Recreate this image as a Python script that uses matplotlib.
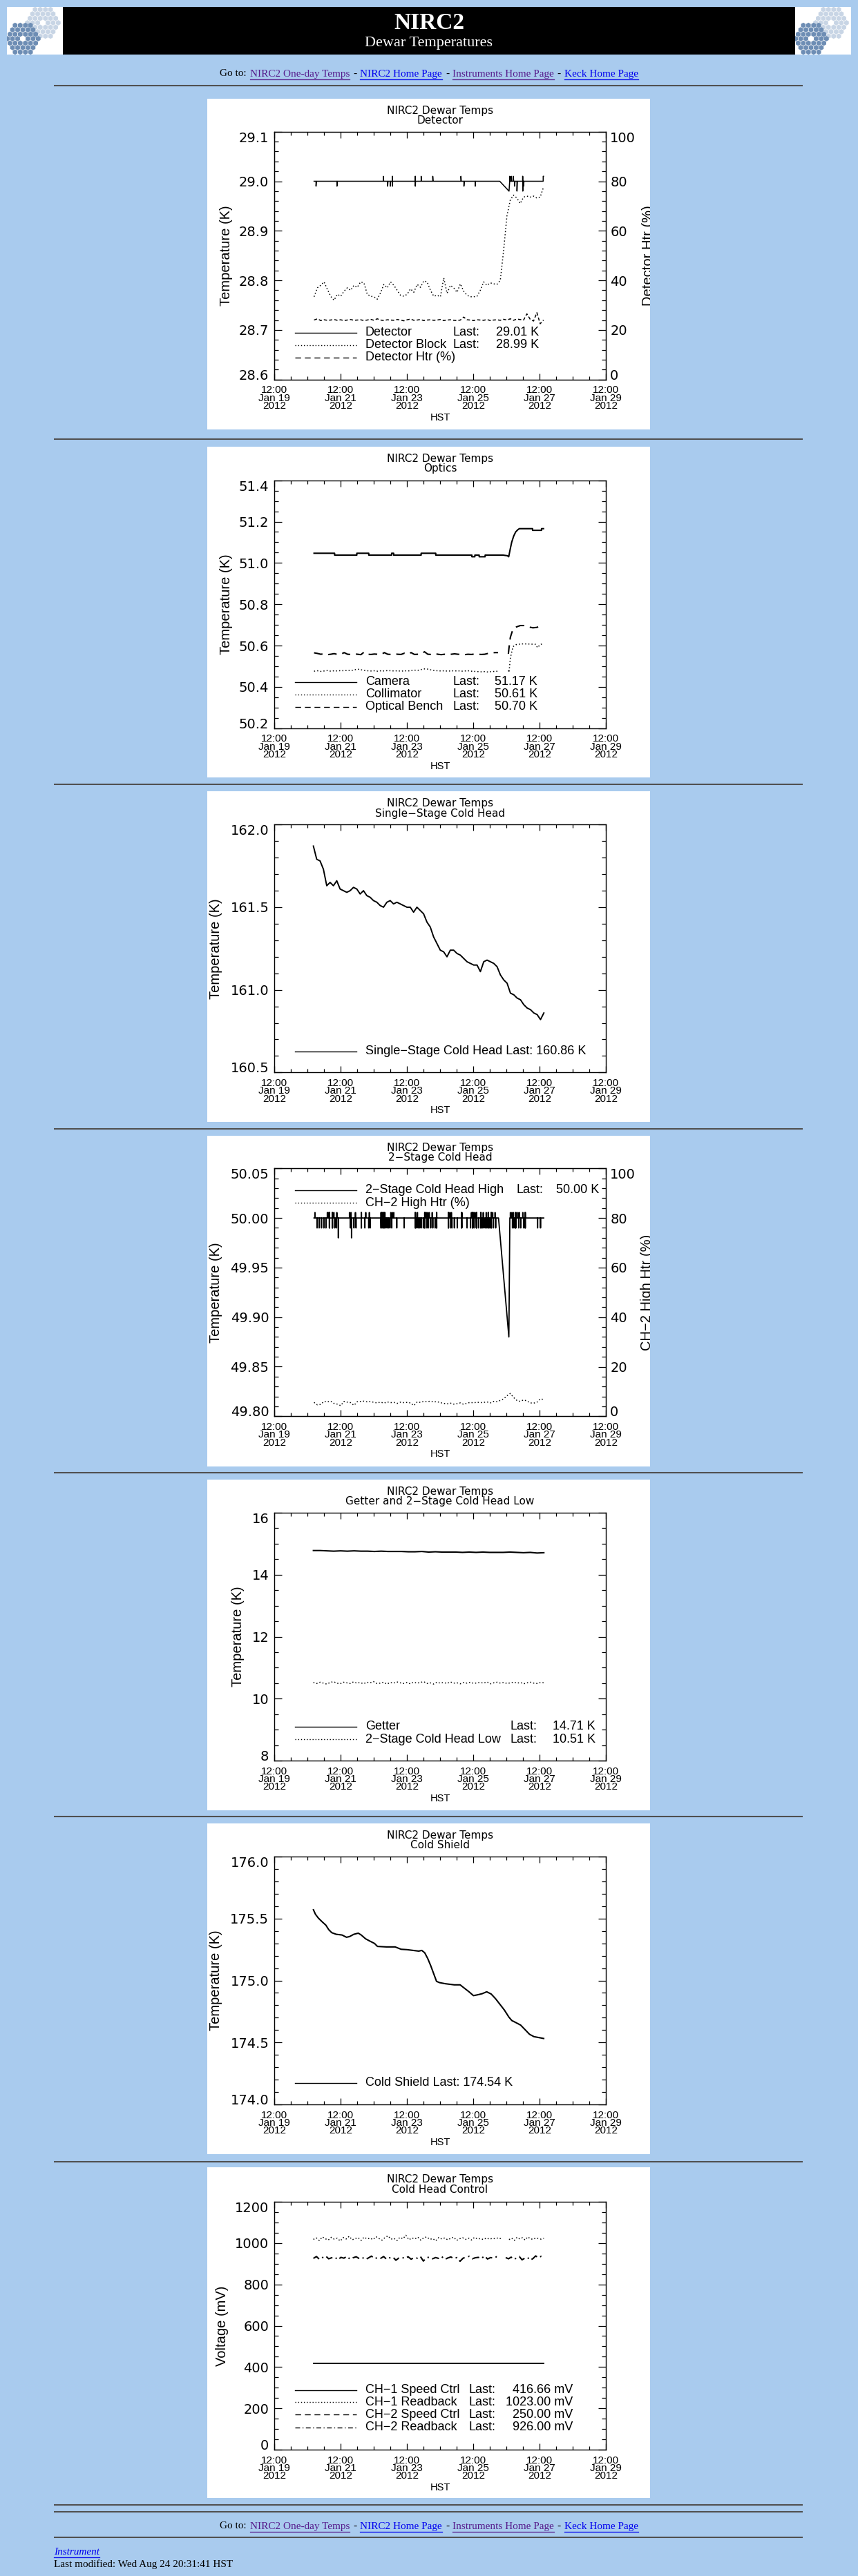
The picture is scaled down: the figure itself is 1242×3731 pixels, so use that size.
import numpy as np
import matplotlib
matplotlib.use("Agg")
import matplotlib.pyplot as plt
import matplotlib.transforms as mtransforms
from matplotlib.patches import Rectangle, RegularPolygon
from matplotlib.ticker import FixedLocator, MultipleLocator, FormatStrFormatter

plt.rcParams['font.family'] = ['DejaVu Sans']

# ======================= DATA =======================
# time axis: days since 2012-01-19 12:00 HST
XTICK_POS = [0, 2, 4, 6, 8, 10]
XTICK_LABELS = ["12:00\nJan 19\n2012", "12:00\nJan 21\n2012", "12:00\nJan 23\n2012",
                "12:00\nJan 25\n2012", "12:00\nJan 27\n2012", "12:00\nJan 29\n2012"]

# --- Panel 1: Detector ---
DET_T = [1.20, 1.26, 1.26, 1.27, 1.89, 1.89, 1.90, 3.29, 3.29, 3.30, 3.42, 3.42, 3.43,
         3.50, 3.50, 3.51, 3.56, 3.56, 3.565, 3.565, 3.57, 4.25, 4.25, 4.255, 4.255, 4.26,
         4.43, 4.43, 4.44, 4.78, 4.78, 4.79, 5.63, 5.63, 5.64, 5.72, 5.72, 5.73,
         6.06, 6.06, 6.07, 6.80, 7.08, 7.10, 7.10, 7.11, 7.15, 7.15, 7.16, 7.21, 7.21, 7.22,
         7.25, 7.25, 7.26, 7.32, 7.32, 7.33, 7.49, 7.49, 7.495, 7.495, 7.50, 7.52, 7.52, 7.53,
         8.11, 8.11, 8.12]
DET_V = [29.00, 29.00, 28.99, 29.00, 29.00, 28.99, 29.00, 29.00, 29.01, 29.00, 29.00, 28.99, 29.00,
         29.00, 28.99, 29.00, 29.00, 29.01, 29.01, 28.99, 29.00, 29.00, 29.01, 29.01, 28.99, 29.00,
         29.00, 29.01, 29.00, 29.00, 29.01, 29.00, 29.00, 29.01, 29.00, 29.00, 28.99, 29.00,
         29.00, 28.99, 29.00, 29.00, 28.98, 29.00, 29.01, 29.00, 29.00, 29.01, 29.00, 29.00, 29.01, 29.00,
         29.00, 28.99, 29.00, 29.00, 28.98, 29.00, 29.00, 29.01, 29.01, 28.98, 29.00, 29.00, 28.99, 29.00,
         29.00, 29.01, 29.01]
DET_SPAN = (1.20, 8.12)
DET_BLOCK = [28.767, 28.785, 28.790, 28.797, 28.782, 28.768, 28.760, 28.772, 28.768, 28.778,
             28.785, 28.780, 28.790, 28.786, 28.797, 28.795, 28.772, 28.768, 28.767, 28.762,
             28.775, 28.792, 28.785, 28.797, 28.790, 28.780, 28.770, 28.768, 28.772, 28.783,
             28.776, 28.792, 28.786, 28.799, 28.797, 28.780, 28.768, 28.770, 28.767, 28.805,
             28.774, 28.790, 28.785, 28.776, 28.793, 28.778, 28.770, 28.767, 28.767, 28.768,
             28.780, 28.797, 28.790, 28.795, 28.793, 28.792, 28.800, 28.860, 28.930, 28.962,
             28.972, 28.966, 28.955, 28.968, 28.970, 28.968, 28.970, 28.966, 28.968, 28.988]
DET_HTR = [24.0, 24.5, 23.8, 24.1, 23.9, 24.0, 24.2, 23.9, 24.1, 23.8,
           24.0, 24.2, 23.9, 24.0, 24.1, 23.8, 24.0, 24.3, 23.9, 24.5,
           24.0, 23.8, 24.1, 24.0, 23.9, 24.2, 24.0, 23.7, 24.1, 24.4,
           23.9, 24.0, 24.2, 23.8, 24.0, 24.1, 23.9, 24.0, 24.2, 23.8,
           24.0, 24.1, 23.9, 23.8, 24.0, 25.2, 24.1, 24.0, 23.8, 24.1,
           24.0, 23.9, 24.2, 23.8, 24.0, 24.1, 23.9, 24.3, 24.0, 24.5,
           23.9, 24.4, 24.2, 24.0, 26.5, 24.3, 23.6, 27.0, 22.5, 24.0]

# --- Panel 2: Optics ---
CAM_T = [1.20, 1.82, 1.82, 2.49, 2.49, 2.85, 2.85, 3.54, 3.54, 3.60, 3.60, 4.43, 4.43, 4.87, 4.87,
         5.96, 5.96, 6.05, 6.05, 6.18, 6.18, 6.36, 6.36, 6.90, 7.03, 7.07, 7.12, 7.16, 7.22, 7.28,
         7.34, 7.39, 7.79, 7.79, 8.06, 8.06, 8.12]
CAM_V = [51.047, 51.047, 51.038, 51.038, 51.047, 51.047, 51.038, 51.038, 51.047, 51.047, 51.038,
         51.038, 51.047, 51.047, 51.038, 51.038, 51.030, 51.030, 51.038, 51.038, 51.030, 51.030,
         51.038, 51.038, 51.035, 51.030, 51.070, 51.100, 51.130, 51.150, 51.160, 51.166, 51.166,
         51.158, 51.158, 51.166, 51.166]
FLAT_SPAN = (1.20, 6.75)
BENCH_FLAT = [50.565, 50.562, 50.558, 50.560, 50.556, 50.558, 50.561, 50.557, 50.558, 50.566,
              50.558, 50.557, 50.560, 50.558, 50.556, 50.569, 50.558, 50.557, 50.559, 50.558,
              50.556, 50.566, 50.558, 50.557, 50.560, 50.558, 50.557, 50.563, 50.558, 50.566,
              50.557, 50.558, 50.559, 50.570, 50.558, 50.557, 50.562, 50.558, 50.556, 50.558,
              50.557, 50.558, 50.560, 50.558, 50.557, 50.556, 50.558, 50.557, 50.559, 50.558,
              50.557, 50.558, 50.562, 50.564, 50.566, 50.566]
BENCH_RISE_T = [7.06, 7.08, 7.12, 7.20, 7.30, 7.42, 7.55, 7.68, 7.80, 7.92, 8.02, 8.12]
BENCH_RISE_V = [50.560, 50.590, 50.640, 50.680, 50.690, 50.697, 50.697, 50.690, 50.686, 50.688, 50.695, 50.694]
COLL_FLAT = [50.476, 50.478, 50.475, 50.477, 50.479, 50.476, 50.478, 50.477, 50.479, 50.478,
             50.480, 50.479, 50.482, 50.486, 50.483, 50.480, 50.478, 50.477, 50.478, 50.476,
             50.478, 50.477, 50.479, 50.478, 50.477, 50.478, 50.476, 50.478, 50.477, 50.479,
             50.481, 50.480, 50.484, 50.487, 50.486, 50.482, 50.479, 50.478, 50.477, 50.478,
             50.476, 50.478, 50.477, 50.478, 50.476, 50.477, 50.478, 50.476, 50.475, 50.474,
             50.473, 50.474, 50.472, 50.474, 50.475, 50.476]
COLL_RISE_T = [7.06, 7.08, 7.12, 7.20, 7.30, 7.45, 7.60, 7.75, 7.88, 7.94, 8.02, 8.12]
COLL_RISE_V = [50.480, 50.470, 50.540, 50.595, 50.605, 50.608, 50.608, 50.607, 50.606, 50.590, 50.605, 50.610]

# --- Panel 3: Single-stage cold head ---
SSCH_SPAN = (1.18, 8.13)
SSCH = [161.87, 161.79, 161.78, 161.73, 161.63, 161.65, 161.63, 161.66, 161.61, 161.60,
        161.59, 161.60, 161.62, 161.61, 161.58, 161.60, 161.57, 161.56, 161.54, 161.53,
        161.51, 161.50, 161.53, 161.54, 161.52, 161.53, 161.52, 161.51, 161.50, 161.50,
        161.47, 161.50, 161.48, 161.46, 161.41, 161.38, 161.32, 161.28, 161.24, 161.23,
        161.20, 161.24, 161.24, 161.22, 161.21, 161.19, 161.17, 161.16, 161.15, 161.15,
        161.11, 161.17, 161.18, 161.17, 161.16, 161.14, 161.09, 161.06, 161.04, 160.98,
        160.97, 160.95, 160.94, 160.91, 160.89, 160.88, 160.86, 160.85, 160.82, 160.86]

# --- Panel 4: 2-stage cold head high ---
CH2_BASE = 50.00
CH2_SPAN = (1.20, 8.125)
CH2_DOWN_T = [1.288, 1.350, 1.421, 1.493, 1.555, 1.662, 1.751, 1.822, 1.875, 2.294, 2.401, 2.463,
              2.623, 2.730, 2.846, 2.890, 3.220, 3.264, 3.309, 3.353, 3.398, 3.442, 3.487, 3.540,
              3.692, 3.914, 4.252, 4.297, 4.341, 4.386, 4.430, 4.493, 4.537, 4.600, 4.644, 4.715,
              4.778, 4.849, 4.894, 5.250, 5.321, 5.356, 5.428, 5.517, 5.650, 5.811, 5.917, 5.980,
              6.024, 6.095, 6.158, 6.229, 6.273, 6.318, 6.362, 6.407, 6.451, 6.496, 6.541, 6.603,
              6.674, 7.182, 7.226, 7.280, 7.369, 7.431, 7.520, 7.565, 7.938, 8.027]
CH2_DOWN_V = 49.99
CH2_UP_T = [1.225, 1.599, 1.626, 1.662, 1.751, 1.795, 1.884, 2.267, 2.312, 2.445, 2.623, 2.757,
            2.864, 3.220, 3.246, 3.273, 3.309, 3.335, 3.513, 3.558, 3.602, 4.252, 4.315, 4.537,
            4.582, 4.626, 4.671, 4.760, 4.894, 5.250, 5.294, 5.339, 5.650, 5.944, 5.980, 6.015,
            6.051, 6.095, 6.229, 6.300, 6.389, 6.451, 6.541, 6.585, 6.656, 7.119, 7.164, 7.208,
            7.280, 7.342, 7.386, 7.493, 7.565]
CH2_UP_V = 50.0055
CH2_DEEP_T = [1.929, 2.329]
CH2_DEEP_V = 49.98
CH2_DIP_T = [6.763, 7.075, 7.105]
CH2_DIP_V = [50.00, 49.88, 50.00]
CH2_HTR = [5.6, 4.6, 4.8, 6.0, 5.8, 6.1, 5.2, 4.9, 4.3, 6.0,
           5.7, 5.5, 4.4, 5.9, 6.0, 6.1, 5.8, 6.0, 5.6, 5.4,
           5.7, 5.3, 5.8, 5.5, 5.6, 5.2, 5.7, 5.5, 5.6, 5.4,
           4.3, 5.8, 5.6, 6.0, 5.9, 6.1, 5.8, 5.9, 5.5, 5.2,
           5.0, 5.3, 4.9, 5.1, 5.4, 4.8, 5.3, 5.6, 5.4, 5.7,
           5.5, 5.6, 5.8, 5.4, 6.0, 5.9, 6.4, 7.0, 8.3, 9.2,
           7.6, 6.4, 6.0, 6.6, 6.2, 5.4, 5.3, 5.6, 7.0, 6.8]

# --- Panel 5: Getter / 2-stage low ---
GETTER = [14.78, 14.78, 14.77, 14.76, 14.77, 14.76, 14.77, 14.76, 14.76, 14.75,
          14.76, 14.75, 14.75, 14.75, 14.74, 14.74, 14.75, 14.73, 14.74, 14.73,
          14.73, 14.73, 14.72, 14.73, 14.72, 14.73, 14.72, 14.72, 14.72, 14.73,
          14.72, 14.71, 14.72, 14.70, 14.71]
CH2_LOW = [10.52, 10.49, 10.53, 10.50, 10.47, 10.52, 10.55, 10.50, 10.48, 10.53,
           10.51, 10.49, 10.54, 10.50, 10.52, 10.48, 10.53, 10.51, 10.55, 10.49,
           10.50, 10.53, 10.47, 10.52, 10.50, 10.54, 10.51, 10.49, 10.52, 10.48,
           10.53, 10.50, 10.52, 10.55, 10.49, 10.51, 10.47, 10.53, 10.50, 10.52,
           10.49, 10.54, 10.50, 10.51, 10.48, 10.52, 10.50, 10.53, 10.49, 10.51,
           10.52, 10.50, 10.54, 10.48, 10.51, 10.53, 10.50, 10.52, 10.49, 10.51,
           10.53, 10.50, 10.52, 10.48, 10.51, 10.53, 10.50, 10.49, 10.52, 10.51]

# --- Panel 6: Cold shield ---
CS_T = [1.181, 1.243, 1.332, 1.439, 1.555, 1.644, 1.733, 1.866, 2.044, 2.178,
        2.267, 2.401, 2.534, 2.623, 2.757, 2.890, 3.024, 3.113, 3.380, 3.647,
        3.825, 4.003, 4.181, 4.359, 4.448, 4.537, 4.627, 4.715, 4.804, 4.894,
        4.983, 5.161, 5.428, 5.606, 5.739, 5.873, 6.007, 6.140, 6.274, 6.407,
        6.541, 6.674, 6.808, 6.941, 7.075, 7.164, 7.297, 7.431, 7.565, 7.698,
        7.832, 8.010, 8.125]
CS_V = [175.571, 175.534, 175.503, 175.475, 175.447, 175.410, 175.386, 175.373, 175.367, 175.349,
        175.354, 175.373, 175.382, 175.367, 175.336, 175.317, 175.299, 175.275, 175.271, 175.271,
        175.252, 175.249, 175.243, 175.237, 175.243, 175.224, 175.178, 175.122, 175.058, 174.993,
        174.983, 174.974, 174.965, 174.965, 174.937, 174.909, 174.878, 174.885, 174.894, 174.909,
        174.891, 174.853, 174.807, 174.761, 174.705, 174.677, 174.659, 174.640, 174.603, 174.566,
        174.547, 174.538, 174.532]

# --- Panel 7: Cold head control ---
CH1_SPEED_T = [1.18, 8.13]
CH1_SPEED_V = [416.66, 416.66]
RB1_A_SPAN = (1.18, 6.85)
RB1_A = [1018, 1025, 1012, 1030, 1021, 1015, 1028, 1019, 1024, 1010, 1027, 1020, 1033, 1016, 1022, 1026,
         1013, 1029, 1020, 1024, 1017, 1031, 1022, 1014, 1027, 1035, 1019, 1023, 1012, 1028, 1021, 1038,
         1016, 1025, 1020, 1029, 1014, 1026, 1030, 1018, 1022, 1011, 1027, 1020, 1025, 1016, 1023, 1029,
         1013, 1021, 1026, 1018, 1024, 1015, 1028, 1020, 1022, 1017, 1025, 1019, 1023, 1021, 1026, 1020]
RB1_B_SPAN = (7.08, 8.13)
RB1_B = [1017, 1024, 1013, 1028, 1020, 1026, 1015, 1030, 1021, 1018, 1025, 1022, 1019, 1023]
RB2_A_SPAN = (1.18, 6.80)
RB2_A = [926, 935, 921, 930, 938, 924, 929, 933, 919, 931, 927, 936, 922, 929, 934, 925,
         931, 920, 928, 937, 924, 930, 926, 935, 921, 929, 933, 917, 928, 931, 925, 934,
         922, 930, 927, 936, 913, 929, 932, 924, 930, 926, 935, 921, 928, 933, 925, 930,
         912, 927, 932, 936, 924, 929, 931, 925, 938, 923, 930, 927, 934, 929]
RB2_B_SPAN = (6.98, 8.13)
RB2_B = [930, 924, 932, 921, 928, 935, 919, 927, 931, 917, 925, 938, 929, 936, 926]

# --- text content ---
TITLE2 = ["Detector", "Optics", "Single\u2212Stage Cold Head", "2\u2212Stage Cold Head",
          "Getter and 2\u2212Stage Cold Head Low", "Cold Shield", "Cold Head Control"]
YLABELS = ["Temperature (K)"] * 6 + ["Voltage (mV)"]
LEG = [
    [("solid", "Detector", "Last:", "29.01 K"), ("dotted", "Detector Block", "Last:", "28.99 K"),
     ("dashed", "Detector Htr (%)", None, None)],
    [("solid", "Camera", "Last:", "51.17 K"), ("dotted", "Collimator", "Last:", "50.61 K"),
     ("dashed", "Optical Bench", "Last:", "50.70 K")],
    [("solid", "Single\u2212Stage Cold Head Last: 160.86 K", None, None)],
    [("solid", "2\u2212Stage Cold Head High", "Last:", "50.00 K"), ("dotted", "CH\u22122 High Htr (%)", None, None)],
    [("solid", "Getter", "Last:", "14.71 K"), ("dotted", "2\u2212Stage Cold Head Low", "Last:", "10.51 K")],
    [("solid", "Cold Shield Last: 174.54 K", None, None)],
    [("solid", "CH\u22121 Speed Ctrl", "Last:", "416.66 mV"), ("dotted", "CH\u22121 Readback", "Last:", "1023.00 mV"),
     ("dashed", "CH\u22122 Speed Ctrl", "Last:", "250.00 mV"), ("dashdot", "CH\u22122 Readback", "Last:", "926.00 mV")],
]

# ======================= LAYOUT =======================
W, H = 1242, 3731
BG = "#A9CBEE"
LS = {"solid": "-", "dotted": (0, (1, 2)), "dashed": (0, (6, 4)), "dashdot": (0, (5, 2.5, 1, 2.5))}

PANEL_TOPS = [142.7, 646.7, 1146.0, 1645.0, 2142.7, 2640.7, 3139.3]
AX_TOPS = [190.7, 695.7, 1194.3, 1692.3, 2191.0, 2689.0, 3189.0]
PANEL_X, PANEL_W, PANEL_H = 300, 641, 479
AX_X, AX_W, AX_H = 397, 480, 359
HR_YS = [124, 636, 1136, 1635, 2133, 2631, 3131, 3628, 3638, 3675]
YLAB_X = [-0.145, -0.145, -0.176, -0.176, -0.11, -0.176, -0.158]
LEG_DY = [[291.3, 309.0, 327.3], [292.3, 310.3, 328.3], [328.4], [31.7, 50.0],
          [309.7, 328.0], [327.7], [272.7, 290.3, 308.3, 326.7]]
LEG_XL = [694, 694, None, 786, 777, None, 717]
LEG_XV = [780, 778, None, 867, 862, None, 829]
LEG_FS = 13
XLAB_DY = [15.5, 27.0, 38.5]

fig = plt.figure(figsize=(W / 100, H / 100), dpi=100)
fig.patch.set_facecolor(BG)
page = fig.add_axes([0, 0, 1, 1], zorder=0)
page.set_xlim(0, W)
page.set_ylim(H, 0)
page.axis("off")
renderer = fig.canvas.get_renderer()

SERIF = "Liberation Serif"
SANS = "Liberation Sans"

# ---------- header ----------
page.add_patch(Rectangle((91, 10), 1060, 69, fc="black", ec="none"))


def logo(x0):
    box = Rectangle((x0, 10), 81, 69, fc="white", ec="none")
    page.add_patch(box)
    r = 4.3
    for cx, cy, col in [(x0 + 52, 33, "#C8D5E5"), (x0 + 23, 56, "#6D8DB4")]:
        for q in range(-3, 4):
            for s in range(-3, 4):
                if abs(q) + abs(s) + abs(q + s) > 6 or (q == 0 and s == 0):
                    continue
                hx = cx + r * np.sqrt(3) * (q + s / 2)
                hy = cy + 1.5 * r * s
                hp = RegularPolygon((hx, hy), 6, radius=r * 0.9, orientation=0, fc=col, ec="none")
                page.add_patch(hp)
                hp.set_clip_path(box)


logo(10)
logo(1151)
page.text(621, 34, "NIRC2", color="white", fontsize=24, fontweight="bold", family=SERIF,
          ha="center", va="center")
page.text(621, 63, "Dewar Temperatures", color="white", fontsize=16, family=SERIF,
          ha="center", va="center")

PURPLE, BLUE = "#551A8B", "#0000EE"
GOTO = [("Go to:", "black", False), ("NIRC2 One-day Temps", PURPLE, True), ("-", "black", False),
        ("NIRC2 Home Page", BLUE, True), ("-", "black", False), ("Instruments Home Page", PURPLE, True),
        ("-", "black", False), ("Keck Home Page", BLUE, True)]


def rich_line(y, pieces, xc, gap=5):
    items = []
    for s, col, link in pieces:
        t = page.text(0, y, s, color=col, family=SERIF, fontsize=11, ha="left", va="center")
        w = t.get_window_extent(renderer=renderer).width
        items.append((t, w, col, link))
    total = sum(w for _, w, _, _ in items) + gap * (len(items) - 1)
    x = xc - total / 2
    for t, w, col, link in items:
        t.set_x(x)
        if link:
            page.plot([x, x + w], [y + 7.5, y + 7.5], color=col, lw=0.9)
        x += w + gap


rich_line(107, GOTO, 621)
rich_line(3659, GOTO, 621)

for y in HR_YS:
    page.plot([78, 1162], [y, y], color="#505050", lw=1.5, solid_capstyle="butt")

t_inst = page.text(78, 3696, "Instrument", color=BLUE, family=SERIF, fontsize=11, style="italic",
                   ha="left", va="center")
wi = t_inst.get_window_extent(renderer=renderer).width
page.plot([78, 78 + wi], [3703.5, 3703.5], color=BLUE, lw=0.9)
page.text(78, 3714, "Last modified: Wed Aug 24 20:31:41 HST", color="black", family=SERIF,
          fontsize=11, ha="left", va="center")


# ---------- panels ----------
def style_y_ends(ax_):
    labs = ax_.get_yticklabels()
    if labs:
        labs[0].set_va("baseline")
        labs[-1].set_va("top")


def make_panel(i, yticks, yminor, fmt):
    top, at = PANEL_TOPS[i], AX_TOPS[i]
    rect = Rectangle((PANEL_X, top), PANEL_W, PANEL_H, fc="white", ec="none")
    page.add_patch(rect)
    ax = fig.add_axes([AX_X / W, 1 - (at + AX_H) / H, AX_W / W, AX_H / H], zorder=2)
    ax.set_facecolor("none")
    ax.set_xlim(0, 10)
    ax.set_ylim(yticks[0], yticks[-1])
    ax.xaxis.set_major_locator(FixedLocator(XTICK_POS))
    ax.xaxis.set_minor_locator(MultipleLocator(0.5))
    ax.yaxis.set_major_locator(FixedLocator(yticks))
    ax.yaxis.set_minor_locator(MultipleLocator(yminor))
    ax.yaxis.set_major_formatter(FormatStrFormatter(fmt))
    ax.tick_params(which="both", direction="in", top=True, right=True, labelbottom=False,
                   width=0.9, color="black")
    ax.tick_params(axis="y", which="major", length=8, pad=5.5, labelsize=14)
    ax.tick_params(axis="y", which="minor", length=4.3)
    ax.tick_params(axis="x", which="major", length=6.5)
    ax.tick_params(axis="x", which="minor", length=3.6)
    for sp in ax.spines.values():
        sp.set_linewidth(1.0)
    style_y_ends(ax)
    ax.set_ylabel(YLABELS[i], fontsize=14.5, family=SANS, va="center")
    ax.yaxis.set_label_coords(YLAB_X[i], 0.5)
    page.text(637, top + 17.5, "NIRC2 Dewar Temps", ha="center", va="center", fontsize=11)
    page.text(637, top + 32, TITLE2[i], ha="center", va="center", fontsize=11)
    page.text(637, at + AX_H + 55, "HST", ha="center", va="center", family=SANS, fontsize=10.5)
    trans = mtransforms.blended_transform_factory(ax.transData, page.transData)
    for xp, lab in zip(XTICK_POS, XTICK_LABELS):
        for j, line in enumerate(lab.split("\n")):
            page.text(xp, at + AX_H + XLAB_DY[j], line, transform=trans,
                      ha="center", va="center", family=SANS, fontsize=11)
    # legend
    for dy, (ls, name, last, val) in zip(LEG_DY[i], LEG[i]):
        y = at + dy
        page.plot([427, 516], [y, y], color="black", lw=1.0, ls=LS[ls])
        page.text(529, y, name, ha="left", va="center", family=SANS, fontsize=LEG_FS)
        if last:
            page.text(LEG_XL[i], y, last, ha="right", va="center", family=SANS, fontsize=LEG_FS)
        if val:
            page.text(LEG_XV[i], y, val, ha="right", va="center", family=SANS, fontsize=LEG_FS)
    return ax, rect


def make_twin(ax, rect, label, xlab):
    ax2 = ax.twinx()
    ax2.set_zorder(3)
    ax2.set_ylim(0, 100)
    ax2.yaxis.set_major_locator(FixedLocator([0, 20, 40, 60, 80, 100]))
    ax2.yaxis.set_minor_locator(MultipleLocator(4))
    ax2.yaxis.set_major_formatter(FormatStrFormatter("%d"))
    ax2.tick_params(axis="y", which="both", direction="in", right=True, left=False, width=0.9)
    ax2.tick_params(axis="y", which="major", length=8, pad=4.5, labelsize=14)
    ax2.tick_params(axis="y", which="minor", length=4.3)
    style_y_ends(ax2)
    ax2.set_ylabel(label, fontsize=14.5, family=SANS, va="center")
    ax2.yaxis.set_label_coords(xlab, 0.5)
    ax2.yaxis.label.set_clip_path(rect)
    return ax2


LW = 1.1

# Panel 1
ax, rect = make_panel(0, [28.6, 28.7, 28.8, 28.9, 29.0, 29.1], 0.02, "%.1f")
ax.plot(DET_T, DET_V, color="black", lw=LW)
ax.plot(np.linspace(*DET_SPAN, len(DET_BLOCK)), DET_BLOCK, color="black", lw=LW, ls=LS["dotted"])
ax2 = make_twin(ax, rect, "Detector Htr (%)", 1.128)
ax2.plot(np.linspace(*DET_SPAN, len(DET_HTR)), DET_HTR, color="black", lw=LW, ls=(0, (3, 2)))

# Panel 2
ax, rect = make_panel(1, [50.2, 50.4, 50.6, 50.8, 51.0, 51.2, 51.4], 0.05, "%.1f")
ax.plot(CAM_T, CAM_V, color="black", lw=1.5)
ax.plot(np.linspace(*FLAT_SPAN, len(COLL_FLAT)), COLL_FLAT, color="black", lw=LW, ls=LS["dotted"])
ax.plot(COLL_RISE_T, COLL_RISE_V, color="black", lw=LW, ls=LS["dotted"])
ax.plot(np.linspace(*FLAT_SPAN, len(BENCH_FLAT)), BENCH_FLAT, color="black", lw=1.5, ls=LS["dashed"])
ax.plot(BENCH_RISE_T, BENCH_RISE_V, color="black", lw=1.5, ls=LS["dashed"])

# Panel 3
ax, rect = make_panel(2, [160.5, 161.0, 161.5, 162.0], 0.1, "%.1f")
ax.plot(np.linspace(*SSCH_SPAN, len(SSCH)), SSCH, color="black", lw=1.4)

# Panel 4
ax, rect = make_panel(3, [49.80, 49.85, 49.90, 49.95, 50.00, 50.05], 0.01, "%.2f")
events = sorted([(t, CH2_DOWN_V) for t in CH2_DOWN_T] + [(t, CH2_UP_V) for t in CH2_UP_T] +
                [(t, CH2_DEEP_V) for t in CH2_DEEP_T])
pts = [(CH2_SPAN[0], CH2_BASE)]
for t, v in events:
    pts += [(t, CH2_BASE), (t, v), (t + 0.006, v), (t + 0.006, CH2_BASE)]
pts += list(zip(CH2_DIP_T, CH2_DIP_V))
pts.append((CH2_SPAN[1], CH2_BASE))
pts.sort(key=lambda p: p[0])
ax.plot([p[0] for p in pts], [p[1] for p in pts], color="black", lw=1.3)
ax2 = make_twin(ax, rect, "CH\u22122 High Htr (%)", 1.124)
ax2.plot(np.linspace(1.20, 8.12, len(CH2_HTR)), CH2_HTR, color="black", lw=LW, ls=LS["dotted"])

# Panel 5
ax, rect = make_panel(4, [8, 10, 12, 14, 16], 0.5, "%d")
ax.plot(np.linspace(1.18, 8.13, len(GETTER)), GETTER, color="black", lw=1.5)
ax.plot(np.linspace(1.18, 8.13, len(CH2_LOW)), CH2_LOW, color="black", lw=LW, ls=LS["dotted"])

# Panel 6
ax, rect = make_panel(5, [174.0, 174.5, 175.0, 175.5, 176.0], 0.1, "%.1f")
ax.plot(CS_T, CS_V, color="black", lw=1.5)

# Panel 7
ax, rect = make_panel(6, [0, 200, 400, 600, 800, 1000, 1200], 50, "%d")
ax.plot(CH1_SPEED_T, CH1_SPEED_V, color="black", lw=1.3)
ax.plot(np.linspace(*RB1_A_SPAN, len(RB1_A)), RB1_A, color="black", lw=LW, ls=LS["dotted"])
ax.plot(np.linspace(*RB1_B_SPAN, len(RB1_B)), RB1_B, color="black", lw=LW, ls=LS["dotted"])
ax.plot(np.linspace(*RB2_A_SPAN, len(RB2_A)), RB2_A, color="black", lw=1.5, ls=LS["dashdot"])
ax.plot(np.linspace(*RB2_B_SPAN, len(RB2_B)), RB2_B, color="black", lw=1.5, ls=LS["dashdot"])

fig.savefig("out.png", dpi=100, facecolor=BG)
